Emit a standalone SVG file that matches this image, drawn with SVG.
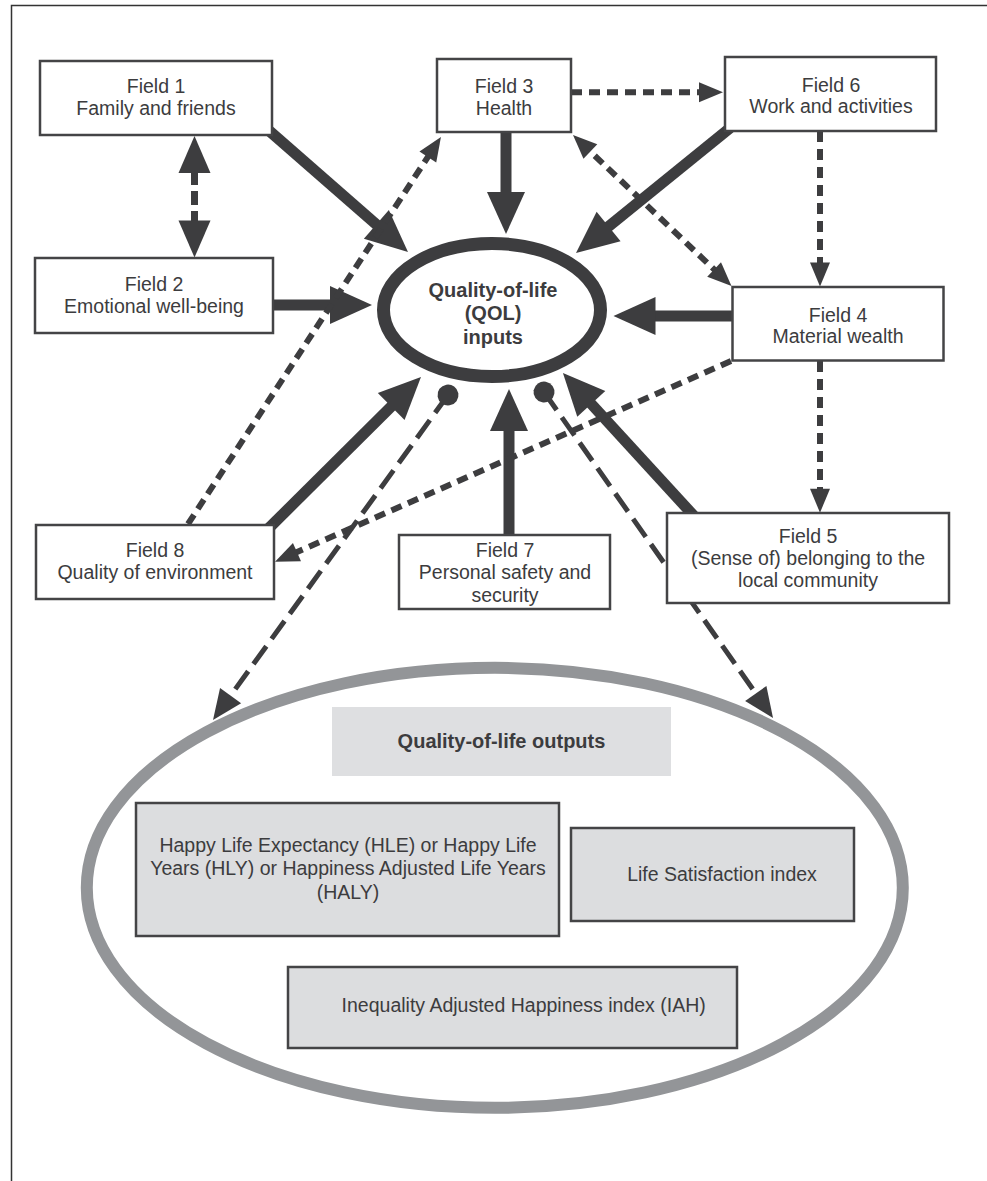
<svg xmlns="http://www.w3.org/2000/svg" width="987" height="1181" viewBox="0 0 987 1181">
<style>
.box{fill:#fff;stroke:#444446;stroke-width:2.5}
.obox{fill:#dcdddf;stroke:#444446;stroke-width:2.5}
.t{font-family:"Liberation Sans",Arial,sans-serif;font-size:19.5px;fill:#3c3c3e;text-anchor:middle}
.b{font-family:"Liberation Sans",Arial,sans-serif;font-size:20px;font-weight:bold;fill:#3c3c3e;text-anchor:middle}
.thick{stroke:#3d3d3f;stroke-width:11;fill:none;marker-end:url(#hBig)}
.dash{stroke:#3d3d3f;stroke-width:6;fill:none;stroke-dasharray:11 7}
.ldash{stroke:#3d3d3f;stroke-width:5;fill:none;stroke-dasharray:22 9;marker-start:url(#dot);marker-end:url(#hOut)}
</style>
<defs>
<marker id="hBig" markerUnits="userSpaceOnUse" viewBox="0 0 42 38" markerWidth="42" markerHeight="38" refX="12" refY="19" orient="auto" overflow="visible"><path d="M0,0 L42,19 L0,38 z" fill="#3d3d3f"/></marker>
<marker id="hSm" markerUnits="userSpaceOnUse" viewBox="0 0 24 20" markerWidth="24" markerHeight="20" refX="12" refY="10" orient="auto-start-reverse" overflow="visible"><path d="M0,0 L24,10 L0,20 z" fill="#3d3d3f"/></marker>
<marker id="hMed" markerUnits="userSpaceOnUse" viewBox="0 0 37 32" markerWidth="37" markerHeight="32" refX="22" refY="16" orient="auto-start-reverse" overflow="visible"><path d="M0,0 L37,16 L0,32 z" fill="#3d3d3f"/></marker>
<marker id="hOut" markerUnits="userSpaceOnUse" viewBox="0 0 30 26" markerWidth="30" markerHeight="26" refX="15" refY="13" orient="auto" overflow="visible"><path d="M0,0 L30,13 L0,26 z" fill="#3d3d3f"/></marker>
<marker id="dot" markerUnits="userSpaceOnUse" viewBox="0 0 22 22" markerWidth="22" markerHeight="22" refX="11" refY="11" orient="auto" overflow="visible"><circle cx="11" cy="11" r="10.5" fill="#3d3d3f"/></marker>
</defs>
<rect width="987" height="1181" fill="#fff"/>
<path d="M11.5,1181 V5.5 H987" fill="none" stroke="#333" stroke-width="1.5"/>

<g id="output-ellipse">
<ellipse cx="494.8" cy="887.8" rx="408" ry="220" fill="none" stroke="#939598" stroke-width="12"/>
</g>

<g id="connectors">
<line class="thick" x1="266" y1="128" x2="385.4" y2="232.3"/>
<line class="thick" x1="270" y1="305" x2="342" y2="305"/>
<line class="thick" x1="506" y1="130" x2="506" y2="204"/>
<line class="thick" x1="730" y1="128" x2="599.3" y2="234.1"/>
<line class="thick" x1="736" y1="316" x2="643.5" y2="316"/>
<line class="thick" x1="268" y1="529" x2="399.7" y2="398.1"/>
<line class="thick" x1="509" y1="538" x2="509" y2="419"/>
<line class="thick" x1="694" y1="516" x2="583.2" y2="395.1"/>
<line class="dash" x1="571" y1="92.3" x2="711" y2="92.3" marker-end="url(#hSm)"/>
<line class="dash" x1="820" y1="131" x2="820" y2="274.5" marker-end="url(#hSm)"/>
<line class="dash" x1="581.7" y1="143.3" x2="722.8" y2="277.7" marker-start="url(#hSm)" marker-end="url(#hSm)"/>
<line class="dash" x1="820" y1="361" x2="820" y2="500.7" marker-end="url(#hSm)"/>
<line class="dash" x1="731" y1="361" x2="286" y2="556.9" marker-end="url(#hSm)"/>
<line class="dash" x1="188" y1="524" x2="434.4" y2="147" marker-end="url(#hSm)"/>
<line x1="194.5" y1="151" x2="194.5" y2="242.5" stroke="#3d3d3f" stroke-width="7" stroke-dasharray="14 6" marker-start="url(#hMed)" marker-end="url(#hMed)"/>
<line class="ldash" x1="448" y1="395" x2="221.8" y2="707.8"/>
<line class="ldash" x1="544" y1="392" x2="764.4" y2="705.7"/>
</g>

<g id="field1">
<rect class="box" x="40" y="61" width="232" height="74"/>
<text class="t" x="156" y="93">Field 1</text>
<text class="t" x="156" y="115">Family and friends</text>
</g>
<g id="field2">
<rect class="box" x="35" y="258" width="238" height="75"/>
<text class="t" x="154" y="291">Field 2</text>
<text class="t" x="154" y="313">Emotional well-being</text>
</g>
<g id="field3">
<rect class="box" x="437" y="59" width="134" height="73"/>
<text class="t" x="504" y="93.3">Field 3</text>
<text class="t" x="504" y="115">Health</text>
</g>
<g id="field6">
<rect class="box" x="725" y="57" width="211" height="74"/>
<text class="t" x="831" y="91.7">Field 6</text>
<text class="t" x="831" y="113">Work and activities</text>
</g>
<g id="field4">
<rect class="box" x="732.5" y="287" width="211" height="73.5"/>
<text class="t" x="838" y="321.5">Field 4</text>
<text class="t" x="838" y="342.5">Material wealth</text>
</g>
<g id="field8">
<rect class="box" x="36" y="525" width="238" height="74"/>
<text class="t" x="155" y="557">Field 8</text>
<text class="t" x="155" y="579">Quality of environment</text>
</g>
<g id="field7">
<rect class="box" x="399" y="535" width="211" height="74"/>
<text class="t" x="505" y="556.7">Field 7</text>
<text class="t" x="505" y="579">Personal safety and</text>
<text class="t" x="505" y="601.7">security</text>
</g>
<g id="field5">
<rect class="box" x="667" y="513" width="282" height="90"/>
<text class="t" x="808" y="542.7">Field 5</text>
<text class="t" x="808" y="565">(Sense of) belonging to the</text>
<text class="t" x="808" y="587.3">local community</text>
</g>
<g id="qol-inputs">
<ellipse cx="492" cy="310" rx="108.5" ry="66.5" fill="#fff" stroke="#3d3d3f" stroke-width="13"/>
<text class="b" x="493" y="296.7">Quality-of-life</text>
<text class="b" x="493" y="320">(QOL)</text>
<text class="b" x="493" y="344">inputs</text>
</g>
<g id="qol-outputs">
<rect x="332" y="707" width="339" height="69" fill="#dedfe1"/>
<text class="b" x="501.5" y="748">Quality-of-life outputs</text>
</g>
<g id="hle">
<rect class="obox" x="136" y="803" width="423" height="133"/>
<text class="t" x="348" y="851.7">Happy Life Expectancy (HLE) or Happy Life</text>
<text class="t" x="348" y="875">Years (HLY) or Happiness Adjusted Life Years</text>
<text class="t" x="348" y="899">(HALY)</text>
</g>
<g id="life-satisfaction">
<rect class="obox" x="571" y="828" width="283" height="93"/>
<text class="t" x="722" y="880.7">Life Satisfaction index</text>
</g>
<g id="iah">
<rect class="obox" x="288" y="967" width="449" height="81"/>
<text class="t" x="523.7" y="1011.7">Inequality Adjusted Happiness index (IAH)</text>
</g>
</svg>
